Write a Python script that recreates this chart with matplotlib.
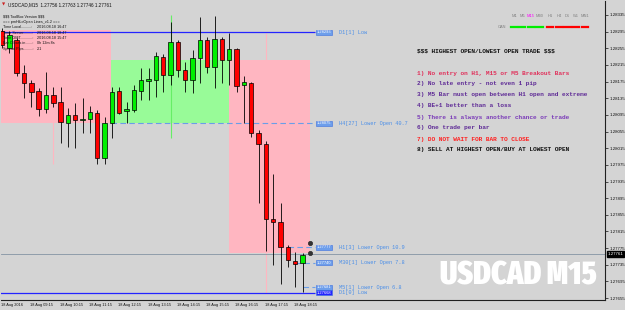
import matplotlib
matplotlib.use("Agg")
import matplotlib.pyplot as plt
from matplotlib.patches import Rectangle
from matplotlib.lines import Line2D
from matplotlib import font_manager as fm

plt.rcParams["text.parse_math"] = False
plt.rcParams["font.family"] = ["Liberation Sans", "DejaVu Sans"]

W, H = 625, 310

# ---------------- data ----------------
bar_times = ["08:15", "08:30", "08:45", "09:00", "09:15", "09:30", "09:45", "10:00",
             "10:15", "10:30", "10:45", "11:00", "11:15", "11:30", "11:45", "12:00",
             "12:15", "12:30", "12:45", "13:00", "13:15", "13:30", "13:45", "14:00",
             "14:15", "14:30", "14:45", "15:00", "15:15", "15:30", "15:45", "16:00",
             "16:15", "16:30", "16:45", "17:00", "17:15", "17:30", "17:45", "18:00",
             "18:15", "18:30"]
opens = [1.28297, 1.28255, 1.28275, 1.28195, 1.28172, 1.28152, 1.28110, 1.28143,
         1.28125, 1.28075, 1.28094, 1.28083, 1.28086, 1.28099, 1.27991, 1.28075,
         1.28152, 1.28104, 1.28108, 1.28152, 1.28176, 1.28179, 1.28234, 1.28191,
         1.28269, 1.28203, 1.28180, 1.28231, 1.28275, 1.28211, 1.28278, 1.28227,
         1.28253, 1.28167, 1.28172, 1.28051, 1.28025, 1.27845, 1.27838, 1.27777,
         1.27744, 1.27740]
highs = [1.28303, 1.28297, 1.28279, 1.28215, 1.28179, 1.28159, 1.28199, 1.28163,
         1.28161, 1.28111, 1.28123, 1.28136, 1.28116, 1.28108, 1.28091, 1.28163,
         1.28161, 1.28127, 1.28167, 1.28207, 1.28207, 1.28245, 1.28241, 1.28319,
         1.28275, 1.28223, 1.28251, 1.28329, 1.28283, 1.28333, 1.28283, 1.28291,
         1.28255, 1.28188, 1.28175, 1.28059, 1.28033, 1.27953, 1.27883, 1.27782,
         1.27766, 1.27764]
lows = [1.28255, 1.28243, 1.28188, 1.28135, 1.28115, 1.28092, 1.28099, 1.28115,
        1.28028, 1.28019, 1.28015, 1.28051, 1.28052, 1.27977, 1.27977, 1.28039,
        1.28097, 1.28076, 1.28103, 1.28132, 1.28132, 1.28137, 1.28151, 1.28167,
        1.28187, 1.28151, 1.28147, 1.28171, 1.28195, 1.28159, 1.28171, 1.28167,
        1.28151, 1.28075, 1.28043, 1.27883, 1.27769, 1.27734, 1.27690, 1.27730,
        1.27681, 1.27670]
closes = [1.28263, 1.28287, 1.28195, 1.28171, 1.28151, 1.28110, 1.28143, 1.28123,
          1.28079, 1.28094, 1.28083, 1.28085, 1.28101, 1.27992, 1.28075, 1.28149,
          1.28100, 1.28109, 1.28155, 1.28179, 1.28181, 1.28237, 1.28190, 1.28271,
          1.28203, 1.28179, 1.28231, 1.28275, 1.28209, 1.28277, 1.28227, 1.28253,
          1.28165, 1.28173, 1.28051, 1.28024, 1.27844, 1.27837, 1.27777, 1.27746,
          1.27738, 1.27758]

price_ticks = [1.28335, 1.28295, 1.28255, 1.28215, 1.28175, 1.28135, 1.28095, 1.28055,
               1.28015, 1.27975, 1.27935, 1.27895, 1.27855, 1.27815, 1.27775, 1.27735,
               1.27695, 1.27655]
current_price = 1.27761
title_ohlc = ["1.27756", "1.27763", "1.27746", "1.27761"]
date_labels = ["18 Aug 2016", "18 Aug 09:15", "18 Aug 10:15", "18 Aug 11:15", "18 Aug 12:15",
               "18 Aug 13:15", "18 Aug 14:15", "18 Aug 15:15", "18 Aug 16:15", "18 Aug 17:15",
               "18 Aug 18:15"]
date_label_bars = [0, 4, 8, 12, 16, 20, 24, 28, 32, 36, 40]

# range boxes (bar start, bar end, low, high)
zone_starts = [-1.0, 14.87, 31.0]
zone_ends = [14.87, 31.0, 42.0]
zone_lows = [1.28075, 1.28075, 1.27763]
zone_highs = [1.28299, 1.28227, 1.28227]
zone_colors = ["#ffb6c1", "#98fb98", "#ffb6c1"]

# vertical marker lines (bar, low, high)
vline_bars = [7, 23, 36]
vline_lows = [1.27976, 1.28039, 1.27667]
vline_highs = [1.28296, 1.28335, 1.28291]
vline_colors = ["#ffb6c1", "#66ee66", "#ffb6c1"]

level_names = ["D1[1] Low", "H4[27] Lower Open 40.7", "H1[3] Lower Open 10.9",
               "M30[1] Lower Open 7.8", "M5[1] Lower Open 6.8", "D1[0] Low"]
level_prices = [1.28293, 1.28075, 1.27777, 1.27740, 1.27681, 1.27668]
level_start_bars = [-1, 14.87, 39, 40, 41, -1]
level_solid = [True, False, False, False, False, True]

marker_prices = [1.27787, 1.27764]
marker_bar = 42.0

rules = ["$$$ HIGHEST OPEN/LOWEST OPEN TRADE $$$", "",
         "1) No entry on H1, M15 or M5 Breakout Bars",
         "2) No late entry - not even 1 pip",
         "3) M5 Bar must open between H1 open and extreme",
         "4) BE+1 better than a loss",
         "5) There is always another chance or trade",
         "6) One trade per bar",
         "7) DO NOT WAIT FOR BAR TO CLOSE",
         "8) SELL AT HIGHEST OPEN/BUY AT LOWEST OPEN"]
rule_colors = ["#111111", "#111111", "#e0305a", "#5e2a96", "#5e2a96", "#5e2a96",
               "#7a3ab8", "#5e2a96", "#ff2020", "#111111"]

timeframes = ["M1", "M5", "M15", "M30", "H1", "H4", "D1", "W1", "MN1"]
tf_status = ["up", "up", "up", "up", "down", "down", "down", "down", "down"]

info_lines = [("$$$ ToolBox Version $$$", ""),
              ("=== pmHiLoOpen Lines_v1.2 ===", ""),
              ("Time Local..........:", "2016.08.18 16:47"),
              ("Time Server.........:", "2016.08.18 18:47"),
              ("Time GMT............:", "2016.08.18 15:47"),
              ("Bar Closes in.......:", "0h 12m 8s"),
              ("Spread Pips.........:", "2.1")]

watermark = "USDCAD M15"

# ---------------- figure ----------------
BG = "#d4d4d4"
fig = plt.figure(figsize=(W / 100, H / 100), dpi=100)
fig.patch.set_facecolor(BG)

ax_l, ax_r, ax_t, ax_b = 1, 605, 1, 300
ax = fig.add_axes([ax_l / W, 1 - ax_b / H, (ax_r - ax_l) / W, (ax_b - ax_t) / H])
ax.set_facecolor(BG)

px0, dpx = 2.0, 7.33          # x pixel of bar 0, pixels per bar
ppx = 0.00002402              # price per pixel
ax.set_xlim((ax_l - px0) / dpx, (ax_r - px0) / dpx)
ax.set_ylim(1.28335 - (ax_b - 15) * ppx, 1.28335 + (15 - ax_t) * ppx)


def bx(px):
    return (px - px0) / dpx


def fx(px):
    return px / W


def fy(py):
    return 1 - py / H


# zones
for s, e, lo, hi, c in zip(zone_starts, zone_ends, zone_lows, zone_highs, zone_colors):
    ax.add_patch(Rectangle((s, lo), e - s, hi - lo, facecolor=c, edgecolor="none", zorder=1))

# vertical marker lines
for b, lo, hi, c in zip(vline_bars, vline_lows, vline_highs, vline_colors):
    ax.vlines(b, lo, hi, colors=c, lw=0.8, zorder=1.5)

# current price line
ax.axhline(current_price, color="#8494a4", lw=0.6, zorder=2)

# level lines and labels
box_c = bx(324)
for name, p, sb, solid in zip(level_names, level_prices, level_start_bars, level_solid):
    if solid:
        ax.hlines(p, sb, bx(315), colors="#2424ff", linestyles="-", lw=0.9, zorder=2)
    else:
        ax.hlines(p, sb, bx(315), colors="#6a9ee8", linestyles=(0, (5, 3)), lw=0.8, zorder=2)
    ax.text(box_c, p, f"{p:.5f}", fontsize=2.9, color="white", ha="center", va="center",
            zorder=6, bbox=dict(boxstyle="square,pad=0.12",
                                facecolor="#2424ff" if name == "D1[0] Low" else "#6d9eeb",
                                edgecolor="#3b6fe0", lw=0.4))
    ax.text(bx(339), p, name, fontsize=3.8, color="#4a8ee8",
            family=["Liberation Mono", "DejaVu Sans Mono"], ha="left", va="center", zorder=6)

# candles
for i, (o, h, l, c) in enumerate(zip(opens, highs, lows, closes)):
    ax.vlines(i, l, h, colors="black", lw=0.6, zorder=3)
    col = "#00f000" if c >= o else "#ff0000"
    ax.add_patch(Rectangle((i - 0.3, min(o, c)), 0.6, max(abs(c - o), 0.00002),
                           facecolor=col, edgecolor="black", lw=0.5, zorder=4))

# trade markers
ax.plot([marker_bar] * len(marker_prices), marker_prices, "o", ms=3.2, color="#333333",
        mec="#111111", mew=0.3, zorder=5)

# axes styling
for sp in ["left", "top"]:
    ax.spines[sp].set_visible(False)
for sp in ["right", "bottom"]:
    ax.spines[sp].set_color("#202020")
    ax.spines[sp].set_linewidth(0.8)
ax.yaxis.tick_right()
ax.set_yticks(price_ticks)
ax.set_yticklabels([f"{t:.5f}" for t in price_ticks], fontsize=3.2, color="#111111")
ax.tick_params(axis="y", length=2, width=0.5, pad=1.2, colors="#111111")
ax.set_xticks(date_label_bars)
ax.set_xticklabels([])
ax.tick_params(axis="x", length=0)
for b, lab in zip(date_label_bars, date_labels):
    ax.text(b - 0.15, -0.01, lab, transform=ax.get_xaxis_transform(), fontsize=2.8,
            color="#111111", ha="left", va="top")

# current price box
ax.text(1.004, current_price, f"{current_price:.5f}", transform=ax.get_yaxis_transform(),
        fontsize=3.2, color="white", ha="left", va="center", zorder=7,
        bbox=dict(boxstyle="square,pad=0.2", facecolor="black", edgecolor="black"))

# title / info block
fig.text(fx(8), fy(5), "USDCAD,M15  " + " ".join(title_ohlc), fontsize=3.3,
         color="#111111", ha="left", va="center")
fig.text(fx(2), fy(5), "\u25bc", fontsize=3, color="#cc2020", ha="left", va="center",
         family="DejaVu Sans")
for k, (a, b) in enumerate(info_lines):
    yy = 16 + k * 5.5
    fig.text(fx(3.3), fy(yy), a, fontsize=2.7, color="#111111", ha="left", va="center")
    if b:
        fig.text(fx(37.3), fy(yy), b, fontsize=2.7, color="#111111", ha="left", va="center")

# rules panel
for k, (t, c) in enumerate(zip(rules, rule_colors)):
    if t:
        fig.text(fx(417), fy(51 + k * 11), t, fontsize=4.4,
                 family=["Liberation Mono", "DejaVu Sans Mono"],
                 weight="bold", color=c, ha="left", va="center")

# timeframe panel
tf_x = [514, 522, 531, 539.5, 550, 559, 567.5, 576, 585]
for x, tf, st in zip(tf_x, timeframes, tf_status):
    fig.text(fx(x), fy(16), tf, fontsize=2.9, color="#ff00ff" if tf == "M15" else "#808080",
             ha="center", va="center")
    fig.add_artist(Line2D([fx(x - 3.2), fx(x + 3.2)], [fy(27.3), fy(27.3)],
                          transform=fig.transFigure, lw=1.6,
                          color="#00ee00" if st == "up" else "#ff0000"))
fig.text(fx(502), fy(27.3), "CAN", fontsize=2.9, color="#808080", ha="center", va="center")

# watermark: look for a condensed / narrow bold face, then fit to the reference width
wm_prop = None
best = None
for f in fm.fontManager.ttflist:
    nm = (f.name + " " + str(f.fname)).lower()
    condensed = ("condensed" in nm or "narrow" in nm or
                 str(f.stretch) in ("condensed", "semi-condensed", "extra-condensed",
                                    "ultra-condensed"))
    w = f.weight if isinstance(f.weight, int) else (700 if "bold" in str(f.weight) else 400)
    if condensed and "mono" not in nm and "serif" not in nm.replace("sans-serif", "") \
            and "oblique" not in nm and "italic" not in nm:
        score = (w >= 600, "extra" in nm or "ultra" in nm, w)
        if best is None or score > best[0]:
            best = (score, f.fname)
if best is not None:
    wm_prop = fm.FontProperties(fname=best[1], size=27)
else:
    wm_prop = fm.FontProperties(family=["Liberation Sans", "DejaVu Sans"], weight="bold", size=27)

wm = fig.text(fx(518), fy(276), watermark, fontproperties=wm_prop, color="white",
              ha="center", va="center")
renderer = fig.canvas.get_renderer()
bb = wm.get_window_extent(renderer)
target_w = 157.0
target_h = 35.0 / 0.72
scale = target_w / bb.width
new_size = min(27 * scale, target_h / 1.389)
wm.set_fontsize(new_size)

fig.savefig("out.png", dpi=100, facecolor=fig.get_facecolor())
